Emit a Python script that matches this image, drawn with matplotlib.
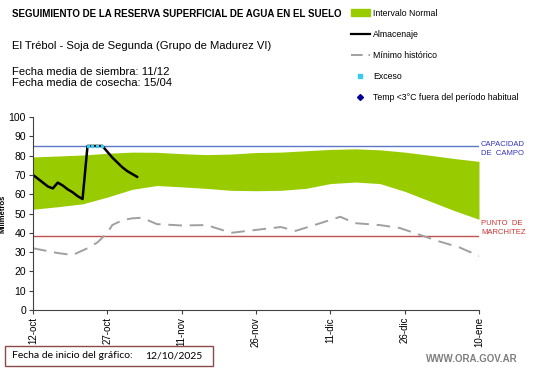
import matplotlib.pyplot as plt
from matplotlib.lines import Line2D
from matplotlib.patches import Patch, Rectangle

plt.rcParams['font.family'] = ['Liberation Sans', 'DejaVu Sans']

# days since 12-oct
band_days = [0, 5, 10, 15, 20, 25, 30, 35, 40, 45, 50, 55, 60, 65, 70, 75, 80, 85, 90]
band_upper = [79.3, 79.8, 80.3, 81.2, 81.8, 81.7, 81.0, 80.5, 80.8, 81.6, 81.8, 82.5, 83.2, 83.5, 83.0,
              81.8, 80.2, 78.5, 77.0]
band_lower = [52.2, 53.5, 55.0, 58.5, 62.5, 64.5, 63.8, 63.0, 62.0, 61.8, 62.0, 63.0, 65.5, 66.3, 65.5,
              61.5, 56.5, 51.5, 47.0]

min_days = [0, 3, 5, 8, 11, 13, 15, 16, 18, 20, 22, 25, 30, 35, 40, 45, 50, 53, 58, 62, 65, 70, 74, 78,
            82, 86, 90]
min_hist = [32, 30.5, 29.5, 28.5, 32, 35, 40, 44, 46.5, 47.5, 47.8, 44.5, 43.8, 44, 40, 41.5, 43, 41, 45,
            48.3, 45, 44, 42.5, 39, 35.5, 32.5, 28]

alm_days = list(range(22))
almacenaje = [70, 68, 66, 64, 63, 66, 64.5, 62.5, 61, 59, 57.5, 85, 85, 85, 85, 82, 79, 76.5, 74, 72, 70.5, 69]

exceso_days = [11, 12, 13, 14]
exceso = [85, 85, 85, 85]

capacidad = 85
marchitez = 38.3

tick_days = [0, 15, 30, 45, 60, 75, 90]
tick_labels = ['12-oct', '27-oct', '11-nov', '26-nov', '11-dic', '26-dic', '10-ene']

fig = plt.figure(figsize=(5.41, 3.68), dpi=100)
ax = fig.add_axes([33 / 541, 58 / 368, 446 / 541, 193 / 368])

ax.fill_between(band_days, band_lower, band_upper, color='#99cc00', lw=0)
ax.axhline(capacidad, color='#5b78c8', lw=1)
ax.axhline(marchitez, color='#c0504d', lw=1)
ax.plot(min_days, min_hist, color='#a0a0a0', lw=1.4, dashes=(7, 4))
ax.plot(alm_days, almacenaje, color='black', lw=1.8)
ax.plot(exceso_days, exceso, ls='none', marker='s', ms=1.8, color='#33ccee')

ax.set_xlim(0, 90)
ax.set_ylim(0, 100)
ax.set_yticks(range(0, 101, 10))
ax.set_xticks(tick_days)
ax.set_xticklabels(tick_labels, rotation=90)
ax.tick_params(axis='both', labelsize=7.5, length=3, color='#404040', pad=2)
ax.tick_params(axis='x', labelsize=7)
for s in ['top', 'right']:
    ax.spines[s].set_visible(False)
for s in ['left', 'bottom']:
    ax.spines[s].set_color('#404040')
ax.set_ylabel('Milímetros', fontsize=5.5, weight='bold')
ax.yaxis.set_label_coords(-26 / 446, 0.5)

ax.text(90.4, capacidad - 1.7, 'CAPACIDAD\nDE  CAMPO', color='#3333bb', fontsize=5.5, va='center', ha='left',
        linespacing=1.35)
ax.text(90.4, marchitez + 4, 'PUNTO  DE\nMARCHITEZ', color='#cc3333', fontsize=5.5, va='center', ha='left',
        linespacing=1.35)

fig.text(12 / 541, 1 - 14 / 368, 'SEGUIMIENTO DE LA RESERVA SUPERFICIAL DE AGUA EN EL SUELO',
         fontsize=7, weight='bold', va='center')
fig.text(12 / 541, 1 - 46 / 368, 'El Trébol - Soja de Segunda (Grupo de Madurez VI)', fontsize=8.1, va='center')
fig.text(12 / 541, 1 - 77.5 / 368, 'Fecha media de siembra: 11/12\nFecha media de cosecha: 15/04',
         fontsize=8.1, va='center', linespacing=1.1)

handles = [Patch(color='#99cc00'),
           Line2D([], [], color='black', lw=1.6),
           Line2D([], [], color='#a0a0a0', lw=1.4, dashes=(6, 3)),
           Line2D([], [], ls='none', marker='s', ms=2.2, color='#33ccee'),
           Line2D([], [], ls='none', marker='D', ms=3, color='#000099')]
labels = ['Intervalo Normal', 'Almacenaje', 'Mínimo histórico', 'Exceso',
          'Temp <3°C fuera del período habitual']
fig.legend(handles, labels, loc='upper left', bbox_to_anchor=(347 / 541, 1 - 5 / 368), frameon=False,
           fontsize=6.3, labelspacing=1.4, handlelength=2.2, handletextpad=0.4, borderaxespad=0)

fig.patches.append(Rectangle((5 / 541, 2 / 368), 208 / 541, 20 / 368, transform=fig.transFigure,
                             fill=False, edgecolor='#8b4a4a', lw=1))
fig.text(12 / 541, 12 / 368, 'Fecha de inicio del gráfico:', fontsize=7.5, va='center', family='Lato')
fig.text(145 / 541, 12 / 368, '12/10/2025', fontsize=7.5, va='center', family='Lato')
fig.text(518 / 541, 9 / 368, 'WWW.ORA.GOV.AR', fontsize=7, weight='bold', color='#7f7f7f', ha='right',
         va='center')

fig.savefig('out.png', dpi=100)
